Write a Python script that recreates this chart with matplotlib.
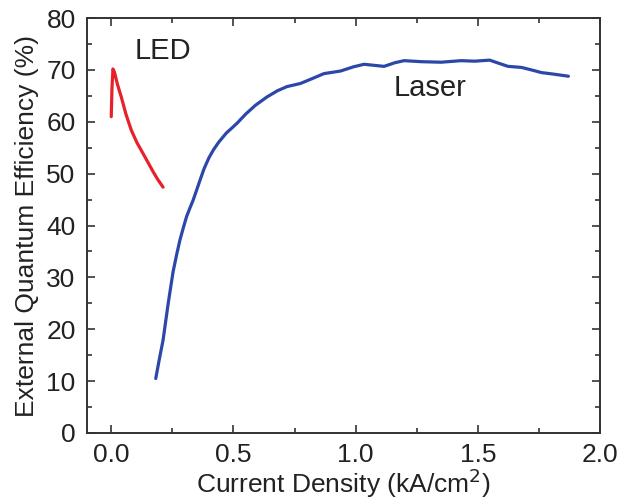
import matplotlib
matplotlib.use("Agg")
import matplotlib.pyplot as plt
from matplotlib.ticker import MultipleLocator

plt.rcParams['font.family'] = ['Liberation Sans', 'DejaVu Sans']

led_x = [0.0, 0.003, 0.007, 0.013, 0.025, 0.041, 0.06, 0.082, 0.105, 0.13, 0.15, 0.171, 0.19, 0.212]
led_y = [61.0, 66.5, 70.2, 69.6, 67.3, 64.8, 61.5, 58.4, 56.0, 53.9, 52.2, 50.4, 48.9, 47.4]

laser_x = [0.182, 0.197, 0.212, 0.233, 0.253, 0.268, 0.281, 0.295, 0.308, 0.322, 0.335,
           0.349, 0.365, 0.38, 0.40, 0.418, 0.44, 0.47, 0.514, 0.55, 0.59,
           0.637, 0.68, 0.719, 0.774, 0.815, 0.870, 0.938, 0.99, 1.034, 1.075, 1.116,
           1.16, 1.198, 1.27, 1.349, 1.431, 1.486, 1.548, 1.585, 1.623, 1.678, 1.72,
           1.760, 1.81, 1.870]
laser_y = [10.5, 14.3, 17.9, 25.0, 31.1, 34.5, 37.2, 39.6, 41.7, 43.4, 44.9,
           46.8, 49.0, 51.0, 53.1, 54.6, 56.1, 57.8, 59.7, 61.5, 63.2,
           64.8, 66.0, 66.8, 67.4, 68.2, 69.3, 69.8, 70.6, 71.1, 70.9, 70.7,
           71.4, 71.8, 71.6, 71.5, 71.8, 71.7, 71.9, 71.3, 70.7, 70.5, 70.0,
           69.5, 69.2, 68.8]

xticks = [0.0, 0.5, 1.0, 1.5, 2.0]
yticks = [0, 10, 20, 30, 40, 50, 60, 70, 80]

fig = plt.figure(figsize=(6.2, 5.04), dpi=100)
ax = fig.add_axes([0.14, 0.141, 0.828, 0.823])

ax.plot(led_x, led_y, color='#e8202a', lw=2.3, solid_joinstyle='round', solid_capstyle='round')
ax.plot(laser_x, laser_y, color='#2b48a8', lw=2.3, solid_joinstyle='round', solid_capstyle='round')

ax.set_xlim(-0.1, 2.0)
ax.set_ylim(0, 80)
ax.set_xticks(xticks)
ax.set_xticklabels([f"{v:.1f}" for v in xticks])
ax.set_yticks(yticks)
ax.xaxis.set_minor_locator(MultipleLocator(0.25))
ax.yaxis.set_minor_locator(MultipleLocator(5))
ax.tick_params(which='both', direction='in', top=True, right=True, labelsize=19, width=1.2,
               color='#333333', labelcolor='#222222')
ax.tick_params(which='major', length=6)
ax.tick_params(axis='y', which='major', pad=8)
ax.tick_params(axis='x', which='major', pad=7)
ax.tick_params(which='minor', length=3.5)
for s in ax.spines.values():
    s.set_linewidth(1.4)
    s.set_color('#333333')

ax.set_xlabel('Current Density (kA/cm$^2$)', fontsize=19, labelpad=0, color='#222222')
ax.set_ylabel('External Quantum Efficiency (%)', fontsize=19, labelpad=5, color='#222222')

ax.text(0.096, 73.6, 'LED', fontsize=21, color='#222222', va='center', ha='left')
ax.text(1.156, 66.5, 'Laser', fontsize=21, color='#222222', va='center', ha='left')

fig.savefig('out.png', dpi=100)
